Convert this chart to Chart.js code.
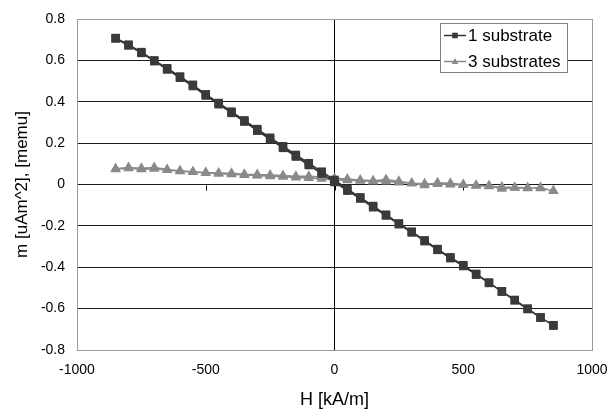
<!DOCTYPE html>
<html>
<head>
<meta charset="utf-8">
<script src="https://cdn.jsdelivr.net/npm/chart.js@4/dist/chart.umd.min.js"></script>
<style>
  html, body { margin: 0; padding: 0; background: #fff; }
  #chart { display: block; }
</style>
</head>
<body>
<canvas id="chart" width="610" height="413"></canvas>
<script>
// field values (kA/m), same for both sweeps
const fieldH = [-850, -800, -750, -700, -650, -600, -550, -500, -450, -400, -350, -300,
  -250, -200, -150, -100, -50, 0, 50, 100, 150, 200, 250, 300, 350, 400, 450, 500,
  550, 600, 650, 700, 750, 800, 850];

// 1 substrate, sweep down and sweep back up (listed in order of fieldH)
const oneSubDown = [0.708, 0.676, 0.640, 0.600, 0.562, 0.522, 0.482, 0.436, 0.394, 0.352,
  0.310, 0.268, 0.226, 0.185, 0.143, 0.103, 0.062, 0.022, -0.022, -0.062, -0.104, -0.146,
  -0.188, -0.228, -0.270, -0.312, -0.352, -0.390, -0.432, -0.474, -0.516, -0.558, -0.600,
  -0.642, -0.682];
const oneSubUp = [0.706, 0.672, 0.636, 0.596, 0.556, 0.516, 0.476, 0.430, 0.388, 0.346,
  0.304, 0.260, 0.218, 0.177, 0.135, 0.094, 0.053, 0.012, -0.030, -0.068, -0.110, -0.150,
  -0.192, -0.232, -0.274, -0.316, -0.356, -0.394, -0.436, -0.476, -0.518, -0.560, -0.602,
  -0.644, -0.680];

// 3 substrates
const threeSubDown = [0.076, 0.082, 0.078, 0.082, 0.072, 0.066, 0.062, 0.058, 0.056, 0.054,
  0.050, 0.048, 0.046, 0.044, 0.040, 0.040, 0.036, 0.030, 0.026, 0.022, 0.018, 0.024, 0.016,
  0.006, -0.004, 0.008, 0.006, 0.000, -0.004, -0.006, -0.020, -0.016, -0.018, -0.014, -0.032];
const threeSubUp = [0.074, 0.078, 0.074, 0.076, 0.070, 0.064, 0.060, 0.056, 0.052, 0.050,
  0.046, 0.044, 0.040, 0.038, 0.034, 0.032, 0.028, 0.022, 0.020, 0.018, 0.014, 0.014, 0.010,
  0.006, 0.004, 0.002, 0.000, -0.002, -0.006, -0.008, -0.012, -0.014, -0.016, -0.018, -0.030];

const seriesLabels = ["1 substrate", "3 substrates"];
const xTicks = [-1000, -500, 0, 500, 1000];
const yTicks = [-0.8, -0.6, -0.4, -0.2, 0, 0.2, 0.4, 0.6, 0.8];

const FONT = "'Liberation Sans', Arial, Helvetica, sans-serif";

// join the two sweeps into one loop: down from +H to -H, then back up
function loop(down, up) {
  const pts = [];
  for (let i = fieldH.length - 1; i >= 0; i--) pts.push({ x: fieldH[i], y: down[i] });
  for (let i = 0; i < fieldH.length; i++) pts.push({ x: fieldH[i], y: up[i] });
  return pts;
}

function marker(ctx, style, x, y, r) {
  ctx.beginPath();
  if (style === "triangle") {
    ctx.moveTo(x, y - r);
    ctx.lineTo(x + r * 0.95, y + r * 0.7);
    ctx.lineTo(x - r * 0.95, y + r * 0.7);
    ctx.closePath();
  } else {
    ctx.rect(x - r * 0.8, y - r * 0.8, r * 1.6, r * 1.6);
  }
  ctx.fill();
}

// Excel-like extras: small ticks on the zero line and the boxed legend
const excelExtras = {
  id: "excelExtras",
  beforeDatasetsDraw(chart) {
    const ctx = chart.ctx;
    const xs = chart.scales.x, ys = chart.scales.y;
    const y0 = Math.round(ys.getPixelForValue(0)) + 0.5;
    ctx.save();
    ctx.strokeStyle = "#000";
    ctx.lineWidth = 1;
    xTicks.forEach(v => {
      if (v <= xs.min || v >= xs.max) return;
      const px = Math.round(xs.getPixelForValue(v)) + 0.5;
      ctx.beginPath();
      ctx.moveTo(px, y0);
      ctx.lineTo(px, y0 + 5);
      ctx.stroke();
    });
    ctx.restore();
  },
  afterDraw(chart) {
    const ctx = chart.ctx;
    const area = chart.chartArea;
    const bx = Math.round(area.right - 152), by = Math.round(area.top + 4);
    const bw = 127, bh = 49;
    ctx.save();
    ctx.fillStyle = "#fff";
    ctx.fillRect(bx, by, bw, bh);
    ctx.strokeStyle = "#808080";
    ctx.lineWidth = 1;
    ctx.strokeRect(bx + 0.5, by + 0.5, bw, bh);
    ctx.font = "17px " + FONT;
    ctx.textBaseline = "middle";
    chart.data.datasets.forEach((ds, i) => {
      const y = by + 12.5 + i * 26;
      ctx.strokeStyle = ds.borderColor;
      ctx.lineWidth = 1.5;
      ctx.beginPath();
      ctx.moveTo(bx + 4, y);
      ctx.lineTo(bx + 26, y);
      ctx.stroke();
      ctx.fillStyle = ds.pointBackgroundColor;
      marker(ctx, ds.pointStyle, bx + 15, y, 3.5);
      ctx.fillStyle = "#000";
      ctx.fillText(ds.label, bx + 28, y + 1);
    });
    ctx.restore();
  }
};

new Chart(document.getElementById("chart"), {
  type: "scatter",
  data: {
    datasets: [
      {
        label: seriesLabels[0],
        data: loop(oneSubDown, oneSubUp),
        showLine: true,
        borderColor: "#333333",
        borderWidth: 1.5,
        pointStyle: "rect",
        pointRadius: 6,
        pointBackgroundColor: "#3a3a3a",
        pointBorderWidth: 0
      },
      {
        label: seriesLabels[1],
        data: loop(threeSubDown, threeSubUp),
        showLine: true,
        borderColor: "#8a8a8a",
        borderWidth: 1.5,
        pointStyle: "triangle",
        pointRadius: 6,
        pointBackgroundColor: "#8a8a8a",
        pointBorderWidth: 0
      }
    ]
  },
  options: {
    responsive: false,
    animation: false,
    layout: { padding: { left: 8, right: 18, top: 19, bottom: 0 } },
    plugins: {
      legend: { display: false },
      tooltip: { enabled: false }
    },
    scales: {
      x: {
        type: "linear",
        min: -1000,
        max: 1000,
        afterBuildTicks: s => { s.ticks = xTicks.map(v => ({ value: v })); },
        afterFit: s => { s.height = 63; s.paddingLeft = 0; s.paddingRight = 0; },
        border: { color: "#999", width: 1 },
        grid: {
          drawTicks: false,
          lineWidth: 1,
          color: c => {
            const v = c.tick ? c.tick.value : null;
            if (v === 0) return "#000";
            if (v === 1000) return "#999";
            return "rgba(0,0,0,0)";
          }
        },
        ticks: {
          padding: 12,
          color: "#000",
          font: { family: FONT, size: 14 },
          maxRotation: 0,
          callback: v => String(v)
        },
        title: {
          display: true,
          text: "H [kA/m]",
          color: "#000",
          font: { family: FONT, size: 18 },
          padding: { top: 0, bottom: 2 }
        }
      },
      y: {
        type: "linear",
        min: -0.8,
        max: 0.8,
        afterBuildTicks: s => { s.ticks = yTicks.map(v => ({ value: v })); },
        afterFit: s => { s.width = 69; s.paddingTop = 0; s.paddingBottom = 0; },
        border: { color: "#999", width: 1 },
        grid: {
          drawTicks: false,
          lineWidth: 1,
          color: c => {
            const v = c.tick ? c.tick.value : null;
            if (v === 0.8) return "#999";
            if (v === -0.8) return "rgba(0,0,0,0)";
            return "#1a1a1a";
          }
        },
        ticks: {
          padding: 12,
          color: "#000",
          font: { family: FONT, size: 14 },
          callback: v => String(Number(v.toFixed(1)))
        },
        title: {
          display: true,
          text: "m [uAm^2], [memu]",
          color: "#000",
          font: { family: FONT, size: 17 },
          padding: { top: 4, bottom: 0 }
        }
      }
    }
  },
  plugins: [excelExtras]
});
</script>
</body>
</html>
